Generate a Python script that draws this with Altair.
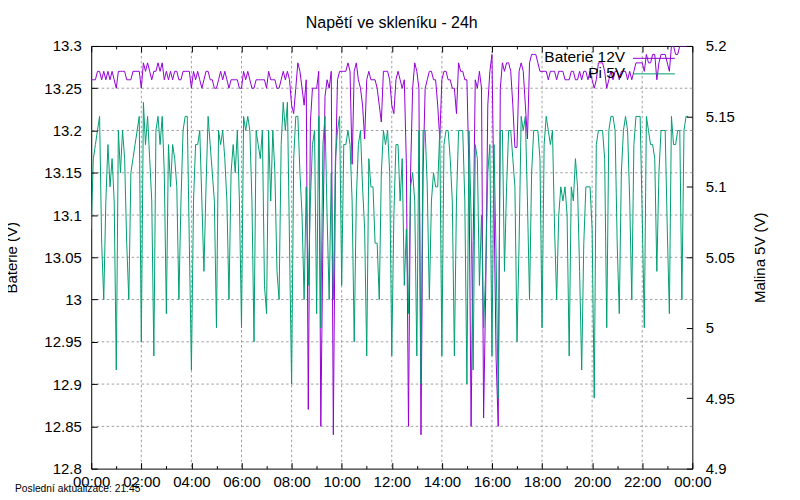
import altair as alt
import pandas as pd

TITLE = "Napětí ve skleníku - 24h"
FOOTER = "Poslední aktualizace: 21:45"
SERIES_NAMES = ["Baterie 12V", "Pi 5V"]
SERIES_COLORS = ["#9400d3", "#009e73"]
Y_LEFT_TITLE = "Baterie (V)"
Y_RIGHT_TITLE = "Malina 5V (V)"
SAMPLE_MINUTES = 5

# Baterie 12V (left axis), 5-minute samples, in 6-hour blocks
bat_00_06 = [13.26,13.26,13.26,13.27,13.27,13.26,13.27,13.26,13.27,13.26,
             13.27,13.26,13.25,13.27,13.27,13.27,13.27,13.26,13.26,13.26,
             13.27,13.27,13.27,13.27,13.25,13.28,13.27,13.28,13.27,13.26,
             13.27,13.27,13.28,13.27,13.28,13.26,13.27,13.26,13.27,13.26,
             13.27,13.27,13.26,13.26,13.27,13.27,13.27,13.27,13.25,13.27,
             13.26,13.27,13.26,13.25,13.26,13.27,13.27,13.26,13.26,13.25,
             13.25,13.26,13.27,13.26,13.27,13.26,13.25,13.26,13.26,13.26,
             13.26,13.25,13.25]
bat_06_12 = [13.27,13.26,13.27,13.26,13.25,13.25,13.26,13.26,13.26,13.26,
             13.26,13.25,13.27,13.26,13.26,13.26,13.25,13.25,13.26,13.27,
             13.26,13.27,13.26,13.23,13.22,13.25,13.28,13.27,13.25,13.23,
             13.26,12.87,13.21,13.25,13.25,13.25,13.27,12.85,13.07,13.24,
             13.26,13.25,13.27,12.84,13.15,13.26,13.27,13.27,13.27,13.27,
             13.28,13.27,13.16,13.27,13.28,13.26,13.25,13.23,13.19,13.26,
             13.27,13.26,13.26,13.26,13.25,13.23,13.21,13.27,13.27,13.27,
             13.26,13.23]
bat_12_18 = [13.22,13.26,13.27,13.26,13.25,13.26,13.16,12.85,13.15,13.25,
             13.28,13.27,13.25,12.84,13.15,13.25,13.26,13.27,13.27,13.26,
             13.26,13.23,13.19,13.26,13.27,13.27,13.26,13.26,13.25,13.25,
             13.22,13.28,13.27,13.27,13.26,13.26,13.15,12.85,13.07,13.26,
             13.25,13.27,13.25,12.86,13.01,13.23,13.27,13.29,13.11,12.93,
             12.85,13.25,13.28,13.27,13.28,13.28,13.27,13.23,13.18,13.18,
             13.27,13.28,13.27,13.23,13.19,13.28,13.29,13.29,13.29,13.28,
             13.27,13.27]
bat_18_24 = [13.27,13.27,13.26,13.27,13.27,13.27,13.26,13.27,13.27,13.27,
             13.26,13.26,13.26,13.27,13.27,13.26,13.26,13.27,13.26,13.27,
             13.27,13.26,13.27,13.26,13.25,13.26,13.28,13.28,13.28,13.27,
             13.25,13.26,13.27,13.26,13.27,13.27,13.26,13.27,13.27,13.27,
             13.26,13.27,13.26,13.27,13.28,13.28,13.28,13.28,13.27,13.29,
             13.28,13.28,13.29,13.29,13.26,13.28,13.29,13.29,13.29,13.28,
             13.27,13.30,13.30,13.29,13.29,13.30,13.30,13.30,13.30,13.30]

# Pi 5V (right axis), 5-minute samples, in 6-hour blocks
pi_00_06 = [5.07,5.12,5.13,5.14,5.15,5.06,5.02,5.09,5.13,5.10,
            5.12,5.09,4.97,5.14,5.11,5.14,5.12,5.06,5.02,5.11,
            5.12,5.13,5.14,5.15,4.99,5.16,5.13,5.15,5.12,5.09,
            4.98,5.14,5.15,5.13,5.15,5.11,5.01,5.13,5.10,5.13,
            5.12,5.10,5.02,5.09,5.14,5.15,5.15,5.06,4.97,5.09,
            5.13,5.13,5.14,5.09,5.04,5.10,5.15,5.13,5.11,5.09,
            5.00,5.14,5.13,5.14,5.12,5.09,5.02,5.11,5.13,5.11,
            5.14,5.09,5.00]
pi_06_12 = [5.15,5.14,5.15,5.14,5.09,4.99,5.14,5.13,5.12,5.14,
            5.03,5.01,5.14,5.09,5.14,5.11,5.04,5.02,5.13,5.16,
            5.14,5.16,5.06,4.96,5.12,5.15,5.15,5.11,5.08,5.02,
            5.10,5.03,5.09,5.13,5.14,5.01,5.15,5.00,5.13,5.15,
            5.08,5.02,5.11,5.02,5.12,5.14,5.15,5.03,5.13,5.13,
            5.14,5.13,5.09,4.99,5.09,5.13,5.14,5.10,5.07,4.98,
            5.12,5.10,5.10,5.06,5.06,5.02,5.11,5.14,5.13,5.14,
            5.11,4.98]
pi_12_18 = [5.08,5.13,5.13,5.09,5.12,5.03,5.07,5.01,5.10,5.11,
            5.09,4.98,5.14,4.96,5.14,5.14,5.10,5.02,5.09,5.11,
            5.10,5.10,5.14,4.98,5.13,5.14,5.14,5.12,5.09,4.98,
            5.09,5.14,5.14,5.14,5.09,4.96,5.14,5.08,4.97,5.13,
            5.12,5.03,5.08,5.00,5.04,5.11,5.13,4.98,5.13,5.05,
            4.95,5.14,5.14,5.04,5.10,5.14,5.14,5.12,5.10,4.99,
            5.06,5.15,5.14,5.15,5.09,5.02,5.11,5.14,5.14,5.14,
            5.12,5.00]
pi_18_24 = [5.13,5.15,5.14,5.13,5.14,5.07,5.02,5.08,5.10,5.09,
            5.10,5.08,4.98,5.10,5.09,5.12,5.10,5.04,4.97,5.06,
            5.10,5.10,5.10,5.07,4.95,5.13,5.14,5.14,5.14,5.12,
            5.00,5.14,5.15,5.15,5.14,5.06,5.01,5.11,5.14,5.15,
            5.14,5.09,5.02,5.13,5.15,5.15,5.15,5.08,5.00,5.15,
            5.14,5.13,5.13,5.12,5.04,5.11,5.14,5.14,5.14,5.07,
            5.01,5.15,5.13,5.13,5.14,5.14,5.02,5.14,5.15,5.15]

# axis ticks
major_hours = [0, 2, 4, 6, 8, 10, 12, 14, 16, 18, 20, 22, 24]
minor_hours = [1, 3, 5, 7, 9, 11, 13, 15, 17, 19, 21, 23]
grid_hours = [2, 4, 6, 8, 10, 12, 14, 16, 18, 20, 22]
left_ticks = [12.8, 12.85, 12.9, 12.95, 13.0, 13.05, 13.1, 13.15, 13.2, 13.25, 13.3]
right_ticks = [4.9, 4.95, 5.0, 5.05, 5.1, 5.15, 5.2]

battery = bat_00_06 + bat_06_12 + bat_12_18 + bat_18_24
pi = pi_00_06 + pi_06_12 + pi_12_18 + pi_18_24
hours = [i * SAMPLE_MINUTES / 60 for i in range(len(battery))]
df = pd.DataFrame({"hour": hours, "bat": battery, "pi": pi})

FONT = "Liberation Sans"
W, H = 603, 424
GRID_COLOR = "#a0a0a0"
DASH = [2.5, 2.5]

X_SCALE = alt.Scale(domain=[0, 24], nice=False, zero=False)
L_SCALE = alt.Scale(domain=[12.8, 13.3], nice=False, zero=False)
R_SCALE = alt.Scale(domain=[4.9, 5.2], nice=False, zero=False)

label_expr = "(datum.value % 24 < 10 ? '0' : '') + (datum.value % 24) + ':00'"

common = dict(domain=False, grid=False, tickColor="black", tickWidth=1,
              labelFont=FONT, labelColor="black", titleFont=FONT,
              titleColor="black", zindex=1)

ax_bottom_major = alt.Axis(orient="bottom", values=major_hours, labelExpr=label_expr,
                           offset=-6, tickSize=6, labelPadding=6, labelFontSize=15,
                           labelFlush=False, labelOverlap=False, labelBound=False, **common)
ax_bottom_minor = alt.Axis(orient="bottom", values=minor_hours, labels=False,
                           offset=-3, tickSize=3, **common)
ax_top_major = alt.Axis(orient="top", values=major_hours, labels=False,
                        offset=-6, tickSize=6, **common)
ax_top_minor = alt.Axis(orient="top", values=minor_hours, labels=False,
                        offset=-3, tickSize=3, **common)
ax_left = alt.Axis(orient="left", values=left_ticks, format="~g", offset=-6, tickSize=6,
                   labelPadding=10, labelFontSize=15, labelOverlap=False,
                   title=Y_LEFT_TITLE, titleFontSize=15, titleFontWeight="normal",
                   titleAngle=270, titleAlign="center", titleBaseline="middle",
                   titleX=-85.5, titleY=H / 2, **common)
ax_right = alt.Axis(orient="right", values=right_ticks, format="~g", offset=-6, tickSize=6,
                    labelPadding=13, labelFontSize=15, labelOverlap=False,
                    title=Y_RIGHT_TITLE, titleFontSize=15, titleFontWeight="normal",
                    titleAngle=270, titleAlign="center", titleBaseline="middle",
                    titleX=73.2, titleY=H / 2, **common)

grid_x = alt.Chart(pd.DataFrame({"h": grid_hours})).mark_rule(
    color=GRID_COLOR, strokeDash=DASH, strokeWidth=1
).encode(x=alt.X("h:Q", scale=X_SCALE, axis=ax_bottom_major, title=None))

grid_y = alt.Chart(pd.DataFrame({"v": left_ticks[1:-1]})).mark_rule(
    color=GRID_COLOR, strokeDash=DASH, strokeWidth=1
).encode(y=alt.Y("v:Q", scale=L_SCALE, axis=None))

minor_top = alt.Chart(pd.DataFrame({"h": minor_hours})).mark_rule(opacity=0).encode(
    x=alt.X("h:Q", scale=X_SCALE, axis=ax_top_minor, title=None)
)

bat_line = alt.Chart(df).mark_line(color=SERIES_COLORS[0], strokeWidth=1, clip=True).encode(
    x=alt.X("hour:Q", scale=X_SCALE, axis=ax_top_major, title=None),
    y=alt.Y("bat:Q", scale=L_SCALE, axis=ax_left),
)

pi_line = alt.Chart(df).mark_line(color=SERIES_COLORS[1], strokeWidth=1, clip=True).encode(
    x=alt.X("hour:Q", scale=X_SCALE, axis=ax_bottom_minor, title=None),
    y=alt.Y("pi:Q", scale=R_SCALE, axis=ax_right),
)

def legend_label(i, y):
    return alt.Chart(pd.DataFrame({"t": [SERIES_NAMES[i]]})).mark_text(
        align="right", baseline="alphabetic", font=FONT, fontSize=15.5, color="black"
    ).encode(text="t:N", x=alt.value(535.5), y=alt.value(y))

def legend_key(i, y):
    return alt.Chart(pd.DataFrame({"t": [SERIES_NAMES[i]]})).mark_rule(
        color=SERIES_COLORS[i], strokeWidth=1
    ).encode(x=alt.value(543.5), x2=alt.value(585.5), y=alt.value(y))

title = alt.Chart(pd.DataFrame({"t": [TITLE]})).mark_text(
    align="center", baseline="alphabetic", font=FONT, fontSize=16, color="black"
).encode(text="t:N", x=alt.value(W / 2), y=alt.value(-18.5))

footer = alt.Chart(pd.DataFrame({"t": [FOOTER]})).mark_text(
    align="left", baseline="alphabetic", font=FONT, fontSize=10.3, color="black"
).encode(text="t:N", x=alt.value(-76.5), y=alt.value(447))

chart = alt.layer(
    grid_x, grid_y, minor_top, bat_line, pi_line,
    legend_label(0, 16.2), legend_key(0, 12.4),
    legend_label(1, 32), legend_key(1, 28),
    title, footer,
).resolve_scale(
    y="independent"
).resolve_axis(
    x="independent", y="independent"
).properties(
    width=W, height=H,
    padding={"left": 83.5, "top": 37.3, "right": 100, "bottom": 30},
    autosize=alt.AutoSizeParams(type="none"),
).configure_view(stroke="black", strokeWidth=1)

chart.save("out.html", embed_options={"renderer": "svg", "actions": False})
